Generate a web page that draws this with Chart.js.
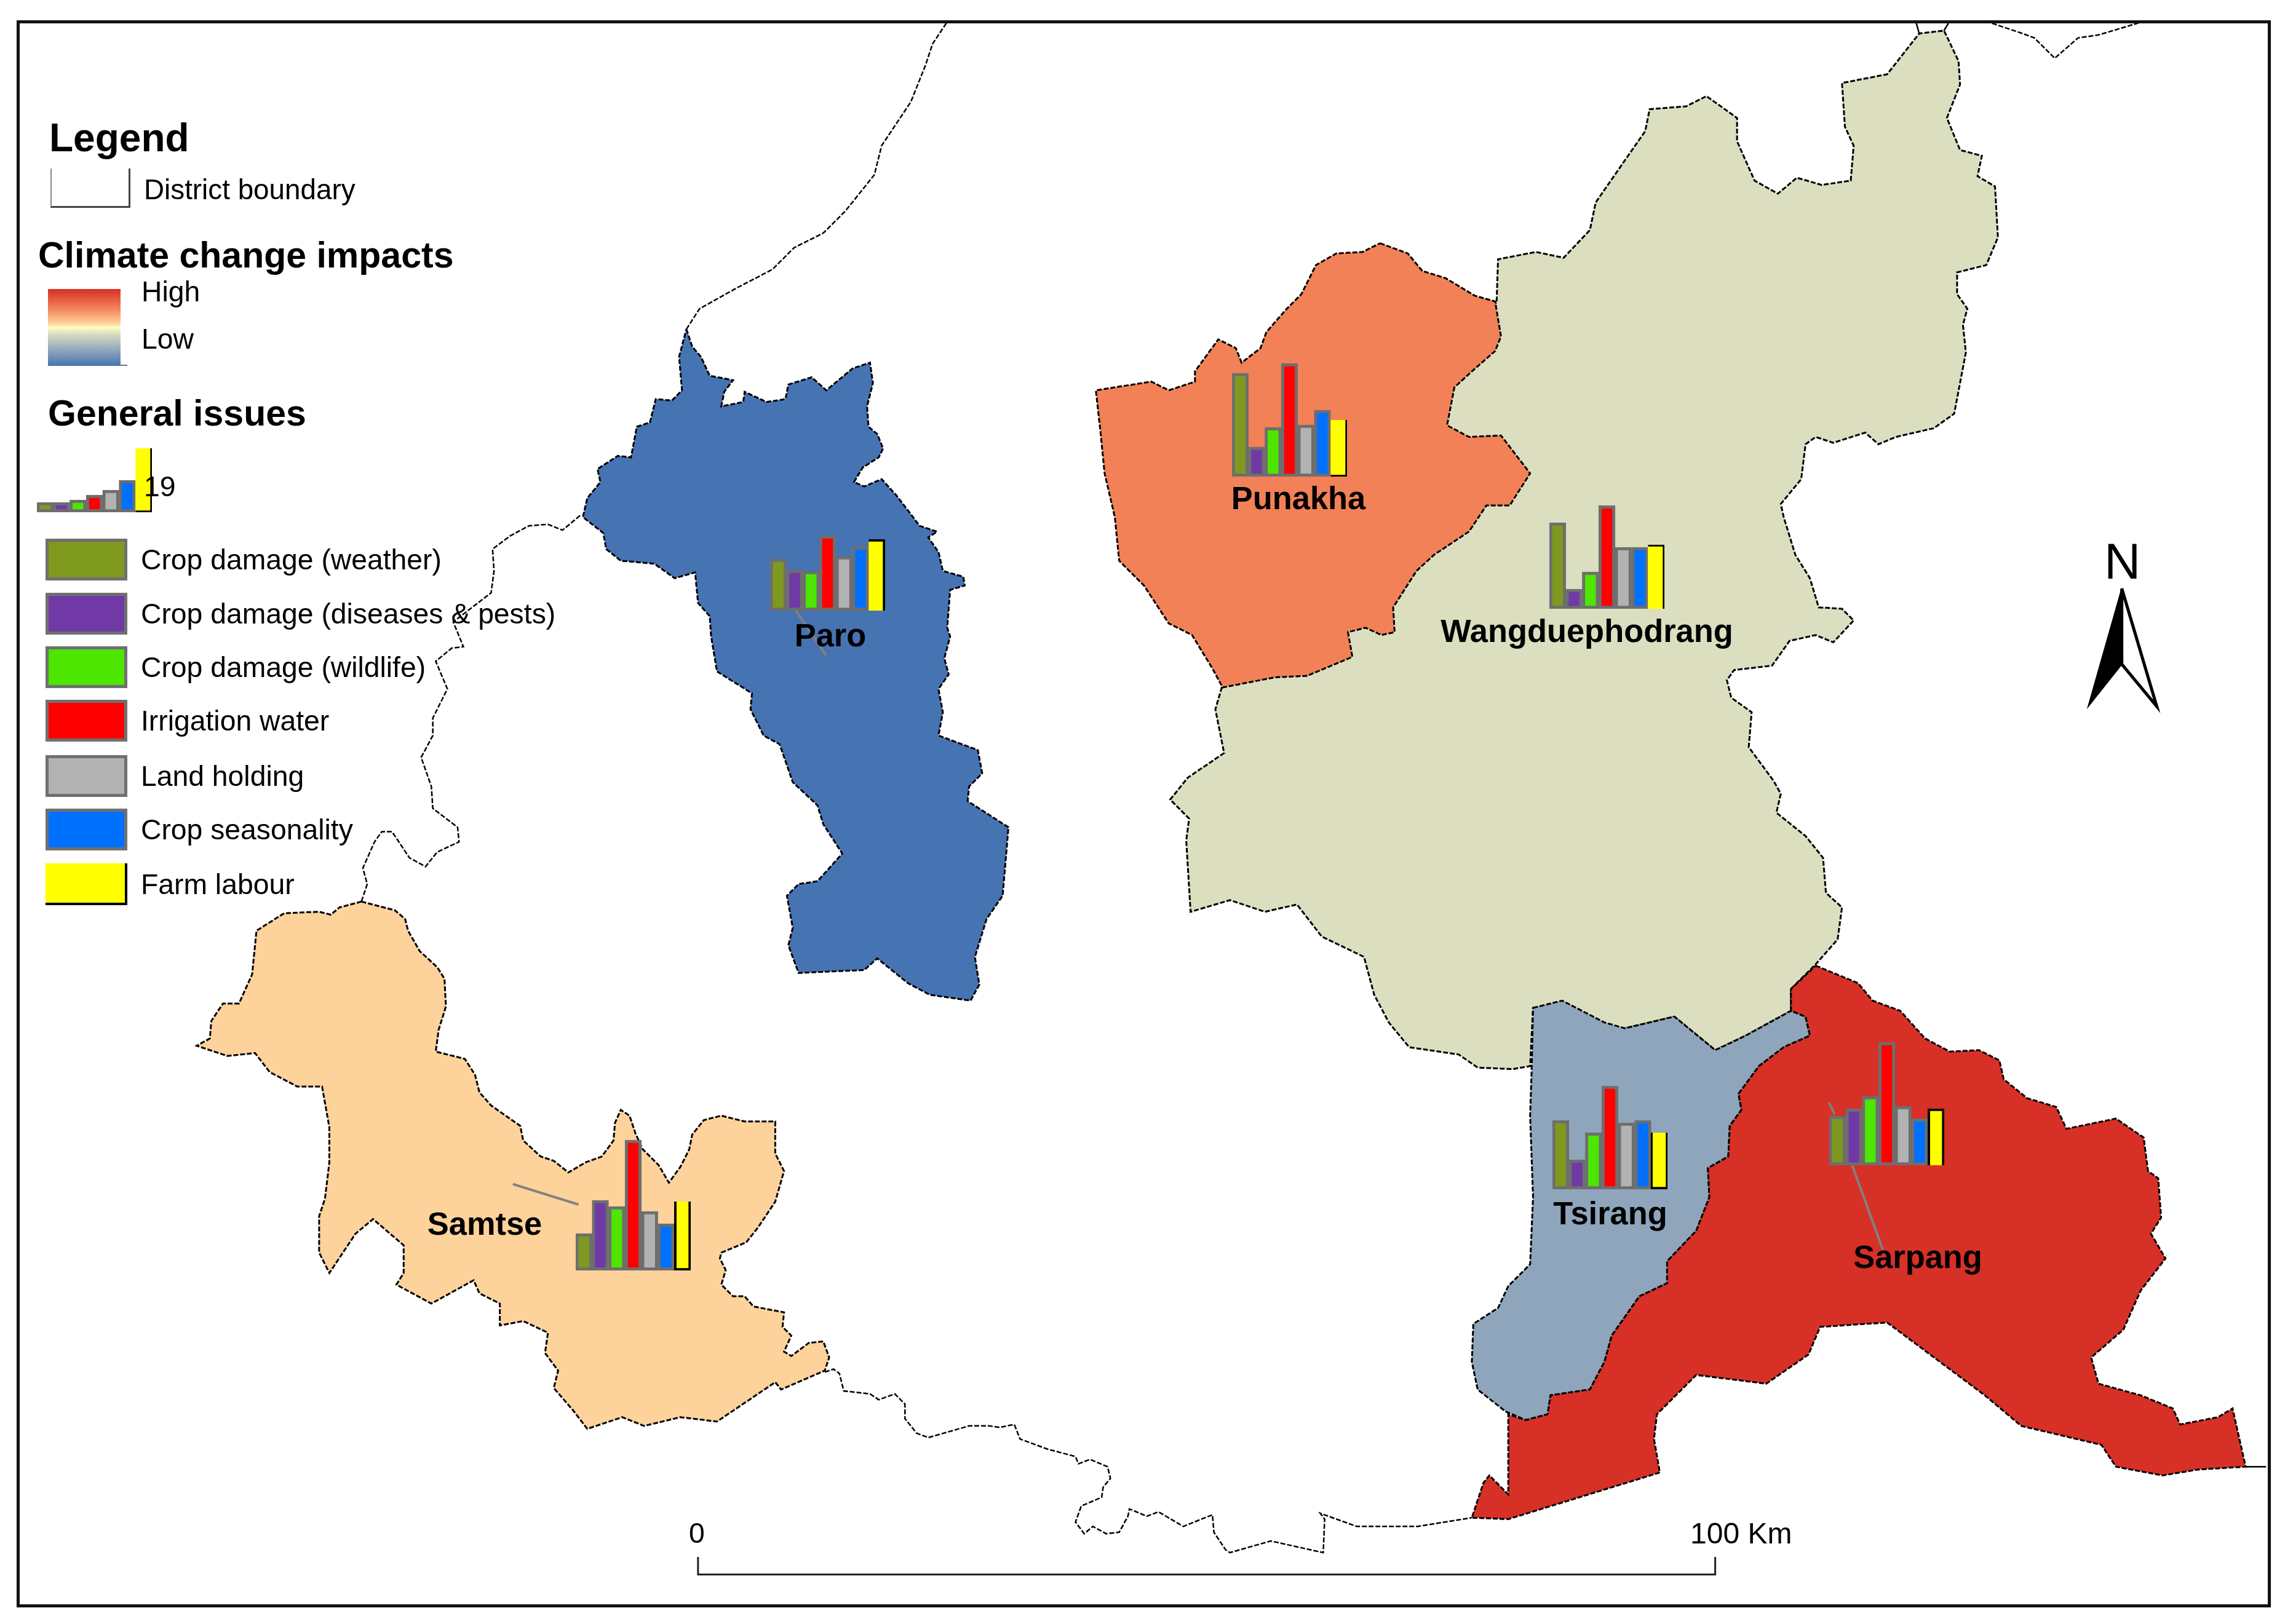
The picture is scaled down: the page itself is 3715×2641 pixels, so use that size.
<!DOCTYPE html>
<html>
<head>
<meta charset="utf-8">
<title>Climate change impacts and general issues</title>
<script src="https://cdn.jsdelivr.net/npm/chart.js@4"></script>
<style>
  html, body { margin: 0; padding: 0; background: #fff; }
  #page { position: relative; width: 3715px; height: 2641px; overflow: hidden; font-family: "Liberation Sans", Arial, sans-serif; color: #000; }
  #page canvas { position: absolute; }
  #frame { position: absolute; left: 27px; top: 33px; width: 3655px; height: 2571px; border: 5px solid #111; }
  .txt { position: absolute; white-space: nowrap; line-height: 1; }
  .reg { font-size: 46.3px; }
  .head { font-weight: bold; font-size: 59px; }
  .name { font-weight: bold; font-size: 52.4px; transform: translate(-50%, -50%); }
  .box { position: absolute; box-sizing: border-box; }
</style>
</head>
<body>
<div id="page">
  <canvas id="map" width="3715" height="2641" style="left:0;top:0"></canvas>
  <div id="frame"></div>
</div>
<script>
// issues, in bar order
const issues = ["Crop damage (weather)", "Crop damage (diseases & pests)", "Crop damage (wildlife)", "Irrigation water", "Land holding", "Crop seasonality", "Farm labour"];
const issueColors = ["#7f991f", "#7139a5", "#4ce600", "#ff0000", "#b2b2b2", "#0070ff", "#ffff00"];
const issueBorders = ["#6e6e6e", "#6e6e6e", "#6e6e6e", "#6e6e6e", "#6e6e6e", "#6e6e6e", "#000000"];

// bar heights per district
const punakhaValues = [42, 12, 20, 46, 21, 27, 23];
const wangdueValues = [35, 8, 15, 42, 25, 25, 26];
const paroValues = [21, 16.5, 16, 30.5, 22, 26, 29];
const samtseValues = [15, 28.5, 26, 53, 24, 19, 28];
const tsirangValues = [28, 12, 23, 42, 27, 28, 23];
const sarpangValues = [20, 23, 28, 50, 24, 19, 23];
const legendValues = [4, 4, 5, 7, 9, 13, 26];

// district outlines, x/y in map units
const wangdueOutline = [[1027,207],[1028,178],[1054,173],[1073,177],[1091,158],[1095,139],[1113,113],[1129,90],[1132,75],[1157,73],[1171,66],[1192,81],[1192,97],[1204,124],[1220,133],[1233,122],[1250,127],[1270,124],[1272,100],[1266,87],[1264,57],[1295,51],[1317,23],[1334,21],[1344,42],[1345,58],[1336,81],[1345,103],[1360,107],[1357,121],[1369,128],[1371,163],[1363,182],[1343,187],[1343,202],[1350,212],[1347,223],[1349,242],[1341,284],[1327,294],[1301,300],[1289,305],[1280,297],[1258,304],[1246,300],[1239,305],[1236,329],[1222,346],[1224,355],[1232,381],[1242,397],[1248,417],[1264,418],[1272,426],[1258,441],[1246,436],[1228,440],[1216,457],[1190,460],[1185,467],[1188,479],[1202,489],[1200,513],[1217,536],[1222,545],[1219,558],[1239,574],[1251,589],[1253,613],[1264,623],[1261,645],[1246,662],[1229,679],[1229,694],[1198,711],[1177,721],[1149,698],[1115,706],[1101,706],[1072,689],[1052,692],[1050,732],[1038,734],[1014,733],[1001,724],[967,719],[953,702],[943,683],[936,657],[907,643],[890,621],[868,626],[844,618],[817,626],[814,577],[816,562],[803,549],[815,534],[840,517],[834,487],[839,470],[900,400]];
const punakhaOutline = [[947,167],[966,174],[976,186],[992,191],[1012,203],[1026,207],[1030,231],[1026,241],[1010,255],[998,266],[993,292],[1008,300],[1030,299],[1040,312],[1050,325],[1036,347],[1020,347],[1008,365],[984,381],[972,392],[956,417],[957,434],[948,436],[937,431],[925,434],[928,451],[897,464],[875,465],[839,472],[832,459],[818,436],[802,428],[785,402],[768,385],[765,355],[758,325],[755,295],[752,268],[790,262],[802,268],[820,262],[820,255],[836,233],[848,239],[852,249],[865,239],[869,228],[883,212],[893,202],[903,182],[917,174],[935,173]];
const paroOutline = [[471,226],[475,238],[481,245],[487,258],[503,261],[497,269],[495,279],[510,276],[511,269],[526,276],[539,274],[541,264],[557,259],[567,268],[585,253],[597,249],[599,263],[595,279],[596,293],[602,298],[606,308],[603,314],[592,321],[586,331],[593,334],[605,329],[615,340],[625,353],[631,361],[643,365],[637,369],[644,379],[647,392],[661,396],[662,402],[652,405],[650,431],[652,437],[648,452],[651,463],[644,473],[647,489],[644,505],[671,515],[674,531],[665,540],[664,550],[692,568],[690,592],[688,615],[677,631],[669,657],[672,676],[666,687],[638,683],[623,675],[602,658],[593,666],[548,668],[541,649],[544,637],[540,615],[548,607],[561,605],[578,586],[565,566],[561,553],[544,537],[535,511],[524,505],[515,487],[516,476],[492,461],[488,437],[487,423],[479,414],[477,393],[463,397],[449,387],[426,385],[416,377],[414,366],[400,355],[403,342],[412,331],[410,322],[424,313],[433,314],[437,293],[446,290],[450,274],[461,275],[468,268],[466,245]];
const samtseOutline = [[248,619],[271,625],[278,631],[280,639],[288,653],[300,664],[305,672],[306,691],[301,707],[299,722],[319,727],[326,738],[329,750],[337,759],[357,773],[359,783],[371,794],[380,797],[390,805],[402,798],[413,794],[421,783],[422,771],[426,762],[432,766],[436,778],[441,789],[452,800],[459,812],[467,801],[473,789],[475,779],[483,769],[495,766],[511,770],[532,770],[532,792],[538,804],[532,825],[520,843],[512,853],[495,860],[494,864],[498,872],[495,882],[503,890],[511,890],[517,897],[538,901],[537,911],[543,917],[538,928],[543,931],[555,922],[565,921],[569,932],[566,941],[536,954],[532,949],[492,976],[467,973],[442,979],[427,973],[403,981],[393,968],[380,953],[383,941],[374,929],[376,915],[359,907],[343,910],[343,895],[329,888],[325,879],[296,895],[272,882],[277,874],[277,855],[256,837],[244,847],[226,874],[219,860],[219,835],[223,823],[226,798],[226,774],[221,746],[204,746],[185,736],[175,723],[156,725],[135,718],[144,713],[145,701],[153,689],[164,689],[173,669],[176,639],[195,627],[219,626],[227,628],[233,623]];
const tsirangOutline = [[1052,692],[1072,687],[1101,702],[1115,706],[1149,698],[1177,721],[1198,711],[1229,694],[1239,698],[1242,711],[1224,719],[1207,732],[1193,751],[1195,762],[1187,773],[1186,794],[1172,802],[1173,822],[1164,845],[1144,866],[1144,881],[1125,890],[1106,917],[1101,935],[1091,954],[1064,958],[1062,971],[1047,975],[1033,969],[1014,954],[1010,935],[1011,909],[1028,898],[1035,883],[1050,868],[1052,822],[1050,766],[1051,736]];
const sarpangOutline = [[1246,663],[1275,675],[1285,687],[1304,694],[1321,713],[1338,722],[1358,721],[1372,728],[1375,741],[1391,754],[1411,760],[1418,775],[1452,768],[1471,781],[1474,804],[1481,809],[1483,836],[1476,847],[1486,864],[1469,886],[1457,913],[1435,932],[1440,950],[1469,958],[1491,967],[1496,978],[1522,973],[1532,967],[1541,1007],[1508,1009],[1484,1013],[1452,1007],[1442,992],[1387,979],[1362,958],[1295,908],[1249,911],[1241,930],[1212,950],[1164,944],[1137,971],[1135,988],[1139,1011],[1035,1043],[1010,1042],[1018,1018],[1022,1013],[1035,1026],[1035,971],[1047,975],[1062,971],[1064,958],[1091,954],[1101,935],[1106,917],[1125,890],[1144,881],[1144,866],[1164,845],[1173,822],[1172,802],[1186,794],[1187,773],[1195,762],[1193,751],[1207,732],[1224,719],[1242,711],[1239,698],[1229,694],[1229,679]];

// open boundary lines
const borderNorth = [[471,226],[480,212],[505,198],[530,185],[545,170],[565,160],[580,145],[600,120],[605,100],[625,70],[635,45],[640,30],[650,15]];
const borderWest = [[398,354],[386,364],[376,360],[363,361],[350,368],[338,377],[339,392],[337,407],[311,427],[318,444],[310,445],[299,454],[307,473],[297,493],[297,505],[289,520],[296,540],[297,555],[314,568],[315,578],[300,585],[292,595],[281,589],[269,571],[262,571],[257,578],[249,596],[252,607],[248,619]];
const borderSouth = [[566,942],[572,940],[576,943],[579,955],[597,957],[603,961],[614,957],[621,964],[621,974],[629,984],[637,987],[665,979],[679,979],[686,980],[696,978],[700,988],[719,995],[738,1000],[740,1005],[748,1002],[760,1007],[762,1015],[757,1021],[756,1028],[742,1034],[738,1045],[744,1053],[750,1048],[759,1053],[768,1052],[774,1041],[775,1036],[787,1041],[795,1038],[812,1048],[832,1040],[833,1052],[841,1064],[844,1066],[872,1058],[908,1066],[909,1043],[906,1039],[931,1048],[973,1048],[1010,1042]];
const borderNorthEast = [[1367,16],[1385,22],[1396,26],[1410,40],[1426,26],[1440,24],[1470,15]];
const borderTopLeft = [[1317,23],[1315,16]];
const borderTopRight = [[1334,21],[1337,16]];
const borderEast = [[1541,1007],[1555,1007]];

// leader lines, scale bar and north arrow
const leaderLines = [[[546,419],[567,450]], [[352,813],[397,827]], [[1271,800],[1292,858]], [[1255,757],[1259,765]]];
const scaleBar = [[479,1069],[479,1081],[1177,1081],[1177,1069]];
const arrowLeft = [[1456,404],[1456,456],[1433,485]];
const arrowRight = [[1456,404],[1480,485],[1456,456]];

const toPoints = (list) => list.map((p) => ({ x: p[0], y: p[1] }));

function area(list, color) {
  return { data: toPoints(list.concat([list[0]])), showLine: true, backgroundColor: color, fill: "shape", borderColor: "#000", borderWidth: 3, borderDash: [8, 3], pointRadius: 0, tension: 0 };
}
function line(list, color, width, dash) {
  return { data: toPoints(list), showLine: true, borderColor: color, borderWidth: width, borderDash: dash || [], fill: false, pointRadius: 0, tension: 0 };
}

// painted in this order
const layers = [
  line(borderNorth, "#000", 2.5, [8, 3]),
  line(borderWest, "#000", 2.5, [8, 3]),
  line(borderSouth, "#000", 2.5, [8, 3]),
  line(borderNorthEast, "#000", 2.5, [8, 3]),
  line(borderTopLeft, "#000", 2.5),
  line(borderTopRight, "#000", 2.5),
  line(borderEast, "#000", 2.5),
  area(wangdueOutline, "#dbdfc0"),
  area(punakhaOutline, "#f28157"),
  area(paroOutline, "#4673b2"),
  area(samtseOutline, "#fdd29b"),
  area(tsirangOutline, "#8fa5bb"),
  area(sarpangOutline, "#d63027"),
  line(scaleBar, "#222", 3),
  { data: toPoints(arrowLeft.concat([arrowLeft[0]])), showLine: true, backgroundColor: "#000", fill: "shape", borderColor: "#000", borderWidth: 2, pointRadius: 0 },
  line(arrowRight.concat([arrowRight[0]]), "#000", 5),
].concat(leaderLines.map((l) => line(l, "#808080", 4)));
layers.forEach((d, i) => { d.order = layers.length - i; });

new Chart(document.getElementById("map"), {
  type: "scatter",
  data: { datasets: layers },
  options: {
    responsive: false,
    animation: false,
    devicePixelRatio: 1,
    layout: { padding: 0 },
    plugins: { legend: { display: false }, tooltip: { enabled: false } },
    scales: {
      x: { type: "linear", display: false, min: 0, max: 1568 },
      y: { type: "linear", display: false, min: 0, max: 1115, reverse: true },
    },
  },
});

const page = document.getElementById("page");

// yellow bar only keeps some of its black edges
function issueChart(values, left, base, width, yMax, plotHeight, yellowEdge) {
  const c = document.createElement("canvas");
  c.width = width;
  c.height = plotHeight;
  c.style.left = left + "px";
  c.style.top = (base - plotHeight) + "px";
  page.appendChild(c);
  new Chart(c, {
    type: "bar",
    data: {
      labels: issues,
      datasets: [{ data: values, backgroundColor: issueColors, borderColor: issueBorders, borderWidth: [5, 5, 5, 5, 5, 5, yellowEdge], borderSkipped: false, barPercentage: 1, categoryPercentage: 1 }],
    },
    options: {
      responsive: false,
      animation: false,
      devicePixelRatio: 1,
      layout: { padding: 0 },
      plugins: { legend: { display: false }, tooltip: { enabled: false } },
      scales: { x: { display: false }, y: { display: false, min: 0, max: yMax } },
    },
  });
}

issueChart(punakhaValues, 2003, 775, 187, 80, 320, { right: 3, bottom: 3, top: 0, left: 0 });
issueChart(wangdueValues, 2519, 990, 187, 80, 320, { right: 3, bottom: 0, top: 3, left: 0 });
issueChart(paroValues, 1252, 993, 187, 80, 320, { right: 4, bottom: 0, top: 4, left: 0 });
issueChart(samtseValues, 936, 2066, 187, 80, 320, { right: 4, bottom: 4, top: 0, left: 4 });
issueChart(tsirangValues, 2524, 1934, 187, 80, 320, { right: 3, bottom: 4, top: 0, left: 3 });
issueChart(sarpangValues, 2974, 1895, 187, 80, 320, { right: 4, bottom: 0, top: 4, left: 4 });
issueChart(legendValues, 60, 833, 187, 28, 112, { right: 3, bottom: 3, top: 0, left: 0 });

function addText(str, cls, x, y) {
  const d = document.createElement("div");
  d.className = "txt " + cls;
  d.textContent = str;
  d.style.left = x + "px";
  d.style.top = y + "px";
  page.appendChild(d);
  return d;
}
function addBox(x, y, w, h, css) {
  const d = document.createElement("div");
  d.className = "box";
  d.style.cssText = `left:${x}px;top:${y}px;width:${w}px;height:${h}px;${css}`;
  page.appendChild(d);
}

addText("Legend", "head", 80, 192).style.fontSize = "64px";
addBox(82, 274, 130, 64, "border-left:2px solid #888;border-right:3px solid #444;border-bottom:3px solid #444");
addText("District boundary", "reg", 234, 286).style.fontSize = "45.8px";
addText("Climate change impacts", "head", 62, 386);
addBox(78, 470, 118, 125, "background:linear-gradient(#d63027,#f28157 25%,#fdd29b 45%,#ffffbf 50%,#dbdfc0 58%,#8fa5bb 80%,#4673b2)");
addBox(196, 593, 11, 2, "background:#777");
addText("High", "reg", 230, 451);
addText("Low", "reg", 230, 528);
addText("General issues", "head", 78, 643);
addText("19", "reg", 234, 768);

const swatchTops = [876, 964, 1051, 1138, 1228, 1315, 1404];
issues.forEach((name, i) => {
  const edge = i === 6 ? "border-right:4px solid #000;border-bottom:4px solid #000" : "border:5px solid #707070";
  addBox(74, swatchTops[i], 133, 68, `background:${issueColors[i]};${edge}`);
  addText(name, "reg", 229, swatchTops[i] + 11);
});

const districtNames = ["Punakha", "Paro", "Wangduephodrang", "Samtse", "Tsirang", "Sarpang"];
const nameSpots = [[2111, 810], [1350, 1033], [2580, 1026], [788, 1990], [2618, 1973], [3118, 2044]];
districtNames.forEach((n, i) => addText(n, "name", nameSpots[i][0], nameSpots[i][1]));

addText("N", "reg", 3421, 872).style.fontSize = "82px";
addText("0", "reg", 1120, 2470);
addText("100 Km", "reg", 2748, 2470).style.fontSize = "48px";
</script>
</body>
</html>
